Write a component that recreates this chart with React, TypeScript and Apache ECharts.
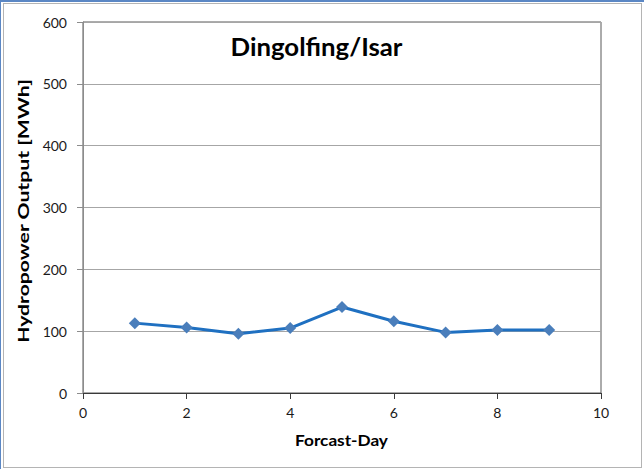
import React, { useEffect, useRef } from "react";
import * as echarts from "echarts";

const days = [1, 2, 3, 4, 5, 6, 7, 8, 9];
const output = [113, 106, 96, 105, 139, 116, 98, 102, 102];
const chartTitle = "Dingolfing/Isar";
const yTitle = "Hydropower Output [MWh]";
const xTitle = "Forcast-Day";

const FONT = "Lato, 'Open Sans', sans-serif";

function measure(txt: string, font: string): number {
  const c = document.createElement("canvas").getContext("2d");
  if (!c) return 0;
  c.font = font;
  return c.measureText(txt).width;
}

export default function App() {
  const ref = useRef<HTMLDivElement>(null);
  useEffect(() => {
    document.body.style.margin = "0";
    const chart = echarts.init(ref.current!, null, { renderer: "svg" });

    const titleFont = `bold 24px ${FONT}`;
    const yFont = `bold 15px ${FONT}`;
    const xFont = `bold 16px ${FONT}`;
    const tW = measure(chartTitle, titleFont) || 172;
    const yW = measure(yTitle, yFont) || 264;
    const xW = measure(xTitle, xFont) || 93;

    chart.setOption({
      animation: false,
      grid: {
        left: 83,
        top: 22,
        right: 43,
        bottom: 76,
        show: true,
        borderColor: "#595959",
        borderWidth: 1,
        containLabel: false,
        outerBoundsMode: "none",
      },
      xAxis: {
        type: "value",
        min: 0,
        max: 10,
        interval: 2,
        axisLine: { show: true, onZero: false, lineStyle: { color: "#3a3a3a", width: 1 } },
        axisTick: { show: true, inside: false, length: 6, lineStyle: { color: "#3a3a3a" } },
        axisLabel: { color: "#1a1a1a", fontFamily: FONT, fontSize: 14, margin: 12 },
        splitLine: { show: false },
      },
      yAxis: {
        type: "value",
        min: 0,
        max: 600,
        interval: 100,
        axisLine: { show: true, onZero: false, lineStyle: { color: "#8c8c8c", width: 1 } },
        axisTick: { show: true, inside: false, length: 6, lineStyle: { color: "#8c8c8c" } },
        axisLabel: { color: "#1a1a1a", fontFamily: FONT, fontSize: 14, margin: 16 },
        splitLine: { show: true, lineStyle: { color: "#a6a6a6", width: 1 } },
      },
      graphic: [
        {
          type: "text",
          x: 316.5,
          y: 46,
          scaleX: 172 / tW,
          z: 10,
          style: {
            text: chartTitle,
            font: titleFont,
            fill: "#000000",
            align: "center",
            verticalAlign: "middle",
          },
        },
        {
          type: "text",
          x: 23,
          y: 211,
          rotation: Math.PI / 2,
          scaleX: 264 / yW,
          z: 10,
          style: {
            text: yTitle,
            font: yFont,
            fill: "#000000",
            align: "center",
            verticalAlign: "middle",
          },
        },
        {
          type: "text",
          x: 341.5,
          y: 440,
          scaleX: 93 / xW,
          z: 10,
          style: {
            text: xTitle,
            font: xFont,
            fill: "#000000",
            align: "center",
            verticalAlign: "middle",
          },
        },
      ],
      series: [
        {
          type: "line",
          data: days.map((d, i) => [d, output[i]]),
          symbol: "diamond",
          symbolSize: [12, 12],
          lineStyle: { color: "#1f70c1", width: 3 },
          itemStyle: { color: "#4a7ebb" },
          z: 5,
        },
      ],
    });
    return () => chart.dispose();
  }, []);

  return (
    <div style={{ position: "relative", width: 644, height: 469, overflow: "hidden", background: "#ffffff" }}>
      <div style={{ position: "absolute", left: 0, top: 0, width: 644, height: 2, background: "#5b87c4" }} />
      <div style={{ position: "absolute", left: 0, top: 0, width: 1, height: 469, background: "#5b87c4" }} />
      <div
        style={{
          position: "absolute",
          left: 3,
          top: 3,
          width: 637,
          height: 463,
          border: "1px solid #b4b4b4",
        }}
      />
      <div ref={ref} style={{ position: "absolute", left: 0, top: 0, width: 644, height: 469 }} />
    </div>
  );
}
